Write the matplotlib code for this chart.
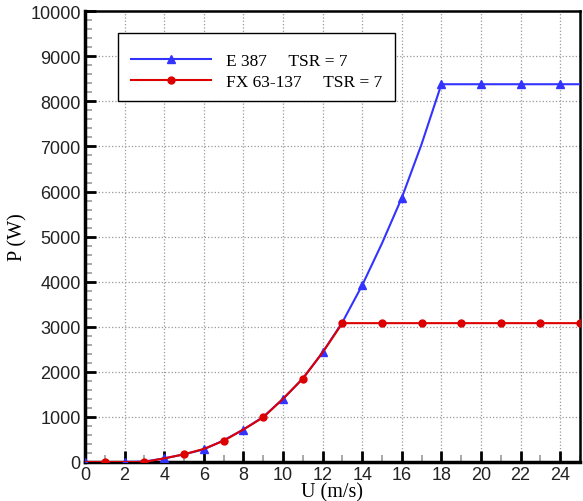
import matplotlib.pyplot as plt
from matplotlib.patches import Rectangle
from matplotlib.ticker import MultipleLocator

# Wind speed (m/s), one point per integer
u = list(range(0, 26))

# E 387, TSR = 7 (markers every 2 m/s)
p_e387 = [0, 0, 0, 10, 80, 170, 280, 480, 720, 1000, 1400, 1850, 2430, 3100,
          3920, 4850, 5860, 7050, 8380, 8380, 8380, 8380, 8380, 8380, 8380, 8380]

# FX 63-137, TSR = 7 (markers on odd speeds)
p_fx = [0, 0, 0, 0, 80, 170, 290, 470, 720, 990, 1400, 1850, 2430, 3080,
        3080, 3080, 3080, 3080, 3080, 3080, 3080, 3080, 3080, 3080, 3080, 3080]

labels = ["E 387     TSR = 7", "FX 63-137     TSR = 7"]

SERIF = ["Liberation Serif", "DejaVu Serif"]
SANS = ["Liberation Sans", "DejaVu Sans"]

fig = plt.figure(figsize=(5.83, 5.02), dpi=100)
ax = fig.add_axes([0.1458, 0.0777, 0.849, 0.898])

ax.plot(u, p_e387, color="#3333ff", lw=1.5, marker="^", ms=6,
        markevery=slice(0, None, 2), label=labels[0], zorder=3)
ax.plot(u, p_fx, color="#dd0000", lw=1.5, marker="o", ms=5,
        markevery=slice(1, None, 2), label=labels[1], zorder=4)

ax.set_xlim(0, 25)
ax.set_ylim(0, 10000)
ax.xaxis.set_major_locator(MultipleLocator(2))
ax.xaxis.set_minor_locator(MultipleLocator(1))
ax.yaxis.set_major_locator(MultipleLocator(1000))
ax.yaxis.set_minor_locator(MultipleLocator(200))

ax.grid(True, which="major", color="#999999", ls=":", lw=0.9)
ax.set_axisbelow(True)

ax.tick_params(which="major", direction="in", length=8, width=2, color="black",
               labelsize=13, pad=3, labelcolor="#222222")
ax.tick_params(which="minor", direction="in", length=5, width=1.2, color="#999999")
for lab in ax.get_xticklabels() + ax.get_yticklabels():
    lab.set_family(SANS)

for side in ["left", "bottom"]:
    ax.spines[side].set_linewidth(2.5)
for side in ["top", "right"]:
    ax.spines[side].set_linewidth(1.8)

ax.set_xlabel("U (m/s)", family=SERIF, fontsize=14.5, labelpad=-1)
ax.set_ylabel("P (W)", family=SERIF, fontsize=14.5, labelpad=2)

# legend frame drawn separately, entries centred inside it
ax.add_patch(Rectangle((0.0667, 0.8004), 0.5596, 0.1506, transform=ax.transAxes,
                       facecolor="white", edgecolor="black", lw=1.0, zorder=5))
ax.legend(loc="center", bbox_to_anchor=(0.3465, 0.866), borderaxespad=0,
          borderpad=0, frameon=False, handlelength=4.6, labelspacing=0.3,
          handletextpad=0.9, prop={"family": SERIF, "size": 12.5}).set_zorder(6)

fig.savefig("out.png", dpi=100)
